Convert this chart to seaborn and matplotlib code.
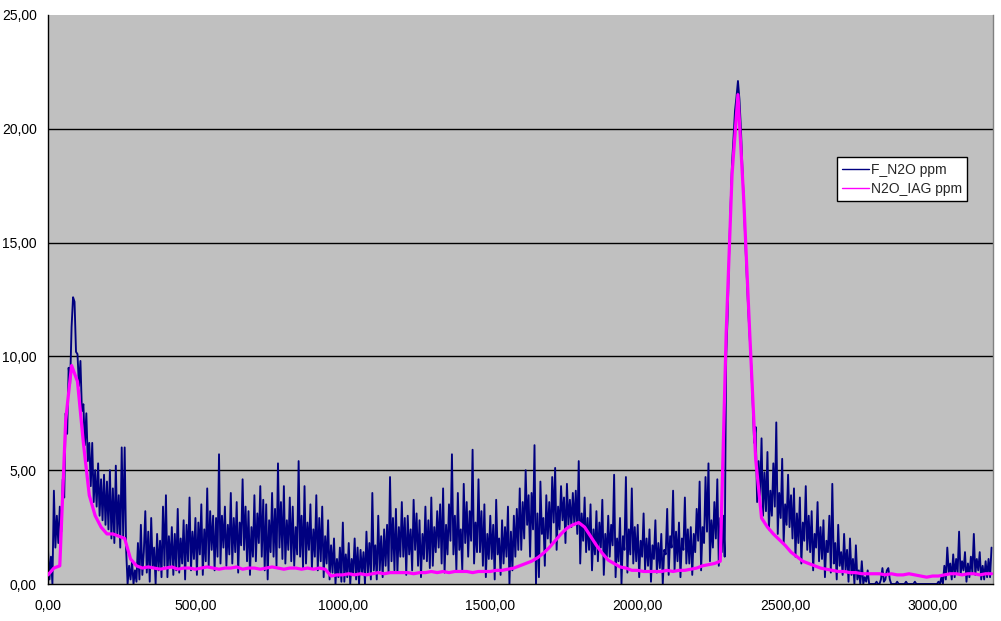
import numpy as np
import pandas as pd
import matplotlib
matplotlib.use("Agg")
import matplotlib.pyplot as plt
import seaborn as sns

# F_N2O ppm, one reading every 5 units, 0 .. 3200
f_n2o = [
    1.5, 0.2, 1.2, 0.0, 4.1, 1.6, 3.0, 1.8, 3.4, 2.3, 4.6, 3.8, 7.5, 6.6, 9.5, 8.8, 11.3, 12.6, 12.4, 10.2,
    10.1, 8.7, 9.8, 7.6, 7.9, 6.1, 7.5, 5.4, 6.2, 4.3, 6.2, 3.6, 5.0, 3.4, 5.3, 3.0, 4.6, 2.8, 4.8, 2.6,
    4.5, 2.4, 5.0, 2.0, 4.2, 1.8, 5.2, 2.2, 3.9, 1.6, 6.0, 2.1, 6.0, 1.5, 0.0, 0.8, 0.2, 1.0, 0.0, 0.6,
    0.1, 1.8, 0.2, 2.6, 0.4, 1.4, 3.2, 0.5, 2.3, 0.1, 2.9, 0.7, 1.6, 0.0, 2.2, 0.6, 1.9, 0.3, 3.4, 0.8,
    3.9, 0.3, 2.1, 0.8, 2.5, 0.4, 2.2, 0.6, 3.3, 0.5, 2.0, 0.9, 2.8, 0.2, 2.6, 1.0, 3.8, 0.6, 2.3, 1.1,
    2.9, 0.4, 2.7, 1.3, 3.5, 0.4, 2.4, 1.0, 4.2, 0.8, 3.2, 1.5, 3.0, 0.6, 2.9, 1.2, 5.7, 0.9, 3.0, 1.6,
    3.4, 0.8, 2.6, 1.3, 4.0, 0.9, 2.9, 1.4, 3.6, 0.5, 2.7, 1.7, 4.6, 1.5, 3.4, 1.0, 3.2, 0.4, 2.5, 1.2,
    3.9, 1.0, 3.1, 1.8, 4.3, 1.2, 3.7, 0.6, 3.5, 0.2, 2.8, 1.4, 4.0, 1.2, 3.3, 0.8, 5.3, 1.6, 3.6, 1.1,
    4.3, 0.9, 2.8, 1.5, 3.8, 1.0, 3.4, 0.8, 2.5, 1.3, 5.4, 1.2, 3.0, 0.7, 4.3, 0.9, 2.7, 1.5, 3.5, 0.7,
    2.4, 1.2, 3.9, 0.6, 2.9, 1.0, 3.4, 0.3, 2.1, 0.9, 2.8, 0.2, 1.7, 0.5, 2.0, 0.0, 1.1, 0.3, 1.6, 0.1,
    2.7, 0.1, 1.3, 0.3, 1.8, 0.0, 1.1, 0.4, 2.0, 0.2, 1.6, 0.0, 1.5, 0.5, 1.4, 0.0, 2.3, 0.5, 1.8, 0.2,
    4.0, 0.6, 1.7, 0.2, 3.0, 0.6, 2.1, 0.3, 2.4, 0.8, 2.6, 0.5, 4.7, 1.0, 2.9, 0.6, 3.3, 0.5, 2.5, 1.2,
    3.6, 1.2, 2.9, 0.4, 3.0, 1.3, 2.4, 0.6, 3.7, 1.5, 3.1, 0.8, 2.8, 0.3, 2.2, 1.1, 3.4, 1.0, 2.8, 0.7,
    3.8, 0.8, 2.5, 1.4, 3.2, 1.6, 3.5, 0.9, 4.2, 0.5, 2.6, 1.3, 3.5, 1.9, 5.7, 1.3, 3.0, 0.6, 4.0, 1.5,
    2.4, 0.6, 4.4, 1.8, 3.6, 1.2, 3.2, 1.9, 5.9, 0.9, 2.7, 1.4, 4.6, 1.4, 3.2, 0.8, 3.5, 0.3, 2.2, 1.1,
    3.0, 1.1, 2.6, 0.2, 3.7, 1.3, 2.0, 0.4, 2.8, 0.9, 2.5, 1.2, 3.4, 0.0, 2.3, 0.6, 3.0, 1.2, 3.3, 1.5,
    4.2, 1.5, 3.6, 2.0, 5.0, 2.6, 3.9, 1.2, 4.0, 2.4, 6.1, 0.0, 3.1, 0.3, 4.5, 2.2, 2.9, 0.8, 3.9, 2.0,
    3.6, 1.8, 4.7, 2.7, 5.1, 1.5, 3.4, 2.4, 4.3, 2.8, 3.8, 1.8, 4.4, 2.6, 3.7, 2.5, 4.0, 2.6, 4.1, 2.2,
    5.4, 0.9, 3.1, 1.9, 3.8, 1.4, 2.9, 1.5, 3.5, 0.6, 2.4, 1.3, 3.2, 1.0, 2.7, 1.6, 3.7, 0.4, 2.2, 1.1,
    3.0, 1.2, 2.6, 1.7, 4.8, 0.3, 2.0, 1.0, 2.9, 0.0, 2.1, 1.5, 4.7, 0.5, 2.4, 1.3, 4.2, 0.9, 2.5, 1.0,
    2.6, 0.3, 1.9, 1.2, 3.1, 0.6, 2.0, 0.8, 2.4, 0.1, 1.7, 1.1, 2.8, 0.5, 1.8, 0.7, 2.2, 0.0, 1.5, 1.3,
    3.3, 0.4, 2.1, 1.6, 4.1, 0.6, 2.3, 1.0, 2.7, 0.3, 2.0, 1.5, 3.8, 0.9, 2.4, 0.9, 2.5, 0.4, 2.2, 1.4,
    3.3, 1.9, 4.5, 0.6, 2.5, 1.8, 4.7, 2.3, 5.3, 1.0, 2.8, 1.6, 3.6, 2.0, 4.6, 0.8, 2.9, 1.4, 3.0, 1.2,
    10.0, 11.8, 14.5, 16.6, 18.5, 19.6, 20.8, 21.4, 22.1, 21.3, 20.0, 18.3, 16.8, 15.0, 13.5, 12.0, 10.8, 9.6, 8.0, 6.2,
    6.9, 3.6, 5.4, 3.8, 6.4, 3.0, 4.9, 3.2, 5.8, 2.4, 4.1, 3.0, 5.3, 3.4, 7.1, 2.2, 4.0, 2.9, 5.5, 1.8,
    3.5, 2.6, 4.8, 2.5, 3.9, 2.0, 4.2, 1.2, 3.1, 1.8, 3.8, 0.9, 2.7, 1.9, 4.3, 1.5, 3.0, 1.4, 3.2, 0.6,
    2.2, 1.6, 3.6, 1.0, 2.5, 1.1, 2.8, 0.3, 1.9, 1.4, 3.0, 0.5, 4.4, 0.9, 1.8, 0.2, 2.6, 0.8, 1.4, 0.4,
    2.2, 0.6, 1.5, 0.1, 2.0, 0.4, 1.1, 0.0, 1.7, 0.2, 0.6, 0.0, 1.0, 0.0, 0.3, 0.1, 0.6, 0.0, 0.0, 0.0,
    0.0, 0.0, 0.1, 0.0, 0.0, 0.2, 0.7, 0.1, 0.2, 0.6, 0.7, 0.2, 0.0, 0.0, 0.0, 0.0, 0.1, 0.0, 0.0, 0.0,
    0.0, 0.0, 0.1, 0.0, 0.0, 0.0, 0.0, 0.0, 0.1, 0.0, 0.0, 0.0, 0.0, 0.0, 0.0, 0.0, 0.0, 0.0, 0.0, 0.0,
    0.0, 0.0, 0.0, 0.0, 0.1, 0.0, 0.3, 0.0, 0.8, 0.2, 1.6, 0.5, 0.9, 0.2, 1.3, 0.3, 1.1, 0.5, 2.3, 0.4,
    1.0, 0.6, 1.4, 0.1, 0.9, 0.3, 1.2, 0.5, 2.2, 0.4, 1.1, 0.6, 1.4, 0.2, 0.8, 0.2, 1.0, 0.3, 1.1, 0.3,
    1.6,
]

# N2O_IAG ppm, one reading every 20 units, 0 .. 3200
n2o_iag = [
    0.4, 0.7, 0.8, 7.2, 9.6, 8.9, 6.2, 3.9, 3.0, 2.5,
    2.2, 2.2, 2.1, 2.0, 1.1, 0.8, 0.7, 0.75, 0.7, 0.65,
    0.7, 0.75, 0.65, 0.7, 0.7, 0.65, 0.7, 0.75, 0.7, 0.65,
    0.7, 0.7, 0.75, 0.65, 0.7, 0.7, 0.65, 0.7, 0.75, 0.7,
    0.65, 0.7, 0.7, 0.65, 0.7, 0.65, 0.7, 0.65, 0.35, 0.4,
    0.4, 0.45, 0.4, 0.45, 0.4, 0.45, 0.5, 0.45, 0.5, 0.5,
    0.5, 0.5, 0.45, 0.5, 0.5, 0.55, 0.5, 0.55, 0.5, 0.55,
    0.55, 0.55, 0.5, 0.55, 0.55, 0.55, 0.6, 0.6, 0.65, 0.7,
    0.8, 0.9, 1.0, 1.15, 1.35, 1.6, 1.9, 2.2, 2.45, 2.6,
    2.7, 2.5, 2.1, 1.7, 1.35, 1.05, 0.9, 0.75, 0.7, 0.6,
    0.6, 0.55, 0.55, 0.55, 0.55, 0.6, 0.55, 0.6, 0.6, 0.65,
    0.7, 0.8, 0.85, 0.9, 1.0, 11.0, 18.0, 21.5, 16.8, 11.0,
    5.5, 2.9, 2.5, 2.2, 1.95, 1.7, 1.4, 1.2, 1.0, 0.9,
    0.8, 0.7, 0.65, 0.6, 0.55, 0.55, 0.5, 0.5, 0.45, 0.45,
    0.45, 0.45, 0.4, 0.45, 0.4, 0.4, 0.45, 0.4, 0.35, 0.3,
    0.35, 0.35, 0.4, 0.45, 0.45, 0.4, 0.45, 0.45, 0.4, 0.45,
    0.45,
]

x_ticks = [0, 500, 1000, 1500, 2000, 2500, 3000]
x_labels = ["0,00", "500,00", "1000,00", "1500,00", "2000,00", "2500,00", "3000,00"]
y_ticks = [0, 5, 10, 15, 20, 25]
y_labels = ["0,00", "5,00", "10,00", "15,00", "20,00", "25,00"]

df_f = pd.DataFrame({"x": np.arange(0, 3201, 5), "y": f_n2o})
df_iag = pd.DataFrame({"x": np.arange(0, 3201, 20), "y": n2o_iag})

sns.set_style("white")
plt.rcParams["font.family"] = ["Liberation Sans", "DejaVu Sans"]

fig = plt.figure(figsize=(10.01, 6.21), dpi=100)
ax = fig.add_axes([48 / 1001, 37 / 621, 945 / 1001, 569 / 621])
ax.set_facecolor("#c0c0c0")

# gridlines
for yv in y_ticks[1:-1]:
    ax.axhline(yv, color="black", linewidth=1, zorder=1)

sns.lineplot(data=df_f, x="x", y="y", ax=ax, color="#000080", linewidth=1.35,
             label="F_N2O ppm", zorder=2)
sns.lineplot(data=df_iag, x="x", y="y", ax=ax, color="#ff00ff", linewidth=2.3,
             label="N2O_IAG ppm", zorder=3)

ax.set_xlim(0, 3205)
ax.set_ylim(0, 25)
ax.set_xticks(x_ticks)
ax.set_xticklabels(x_labels)
ax.set_yticks(y_ticks)
ax.set_yticklabels(y_labels)
ax.set_xlabel("")
ax.set_ylabel("")
ax.tick_params(axis="both", direction="out", length=5, width=1, color="black",
               labelsize=10, labelcolor="black", pad=3)
ax.tick_params(axis="x", pad=6)

for side in ["left", "bottom"]:
    ax.spines[side].set_color("black")
    ax.spines[side].set_linewidth(1)
ax.spines["top"].set_visible(False)
ax.spines["right"].set_color("#808080")
ax.spines["right"].set_linewidth(1)

leg = ax.legend(loc="upper right", bbox_to_anchor=(0.973, 0.75), fontsize=10,
                frameon=True, fancybox=False, framealpha=1, edgecolor="black",
                handlelength=1.9, handletextpad=0.15, labelspacing=0.35,
                borderpad=0.4, borderaxespad=0)
leg.get_frame().set_linewidth(1)
for line in leg.get_lines():
    line.set_linewidth(1)

fig.savefig("out.png", dpi=100)
